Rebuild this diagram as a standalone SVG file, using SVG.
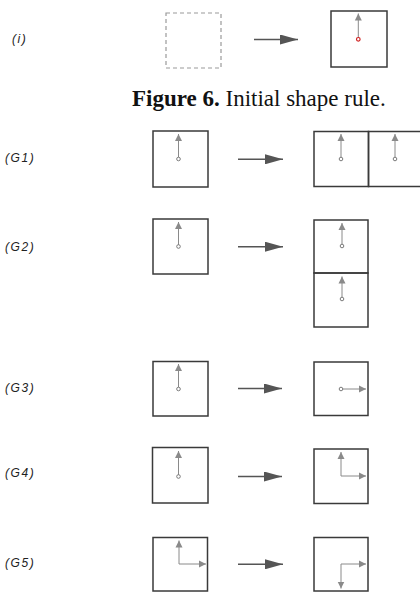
<svg xmlns="http://www.w3.org/2000/svg" width="420" height="592" viewBox="0 0 420 592">
<style>
.bg{fill:#fff}
.sq{fill:none;stroke:#3a3a3a;stroke-width:1.5}
.dash{fill:none;stroke:#9a9a9a;stroke-width:1.2;stroke-dasharray:4 3}
.rule{stroke:#555;stroke-width:1.4;fill:none}
.in{stroke:#8a8a8a;stroke-width:1;fill:none}
.dot{fill:#fff;stroke:#7a7a7a;stroke-width:1}
.red{fill:#fff;stroke:#d02020;stroke-width:1.2}
.lbl{font-family:"Liberation Sans",Arial,sans-serif;font-style:italic;font-size:12px;fill:#222;letter-spacing:1.6px}
.cap{font-family:"Liberation Serif","Times New Roman",serif;font-size:23px;fill:#111}
</style>
<defs>
<marker id="big" markerUnits="userSpaceOnUse" markerWidth="18" markerHeight="10" refX="18" refY="5" orient="auto">
<path d="M0,0 L18,5 L0,10 Z" fill="#555"/>
</marker>
<marker id="sm" markerUnits="userSpaceOnUse" markerWidth="8" markerHeight="8" refX="7" refY="4" orient="auto">
<path d="M0,0.5 L7,4 L0,7.5 Z" fill="#8a8a8a"/>
</marker>
</defs>
<rect class="bg" x="0" y="0" width="420" height="592"/>

<g id="rule-i">
<text class="lbl" x="12" y="43">(i)</text>
<rect class="dash" x="166" y="13" width="55" height="55"/>
<rect class="sq" x="331" y="11" width="56" height="56"/>
<line class="in" x1="358.3" y1="38" x2="358.3" y2="13.5" marker-end="url(#sm)"/>
<circle class="red" cx="358.3" cy="39.3" r="1.8"/>
</g>

<g id="caption">
<text class="cap" x="132" y="106"><tspan font-weight="bold">Figure 6.</tspan> Initial shape rule.</text>
</g>

<g id="G1">
<text class="lbl" x="5" y="162">(G1)</text>
<rect class="sq" x="153" y="131" width="55" height="56"/>
<line class="in" x1="178.5" y1="157.5" x2="178.5" y2="134" marker-end="url(#sm)"/>
<circle class="dot" cx="178.5" cy="159" r="1.8"/>
<rect class="sq" x="314" y="131.5" width="54.5" height="55"/>
<rect class="sq" x="368.5" y="131.5" width="54.5" height="55"/>
<line class="in" x1="341" y1="157.5" x2="341" y2="134" marker-end="url(#sm)"/>
<circle class="dot" cx="341" cy="159" r="1.8"/>
<line class="in" x1="395" y1="157.5" x2="395" y2="134" marker-end="url(#sm)"/>
<circle class="dot" cx="395" cy="159" r="1.8"/>
</g>

<g id="G2">
<text class="lbl" x="5" y="251">(G2)</text>
<rect class="sq" x="153" y="219" width="55" height="55"/>
<line class="in" x1="178.5" y1="245" x2="178.5" y2="222" marker-end="url(#sm)"/>
<circle class="dot" cx="178.5" cy="246.5" r="1.8"/>
<rect class="sq" x="314" y="220" width="54" height="53"/>
<rect class="sq" x="314" y="273" width="54" height="54"/>
<line class="in" x1="342" y1="244.5" x2="342" y2="223" marker-end="url(#sm)"/>
<circle class="dot" cx="342" cy="246" r="1.8"/>
<line class="in" x1="342" y1="297.5" x2="342" y2="276.5" marker-end="url(#sm)"/>
<circle class="dot" cx="342" cy="299" r="1.8"/>
</g>

<g id="G3">
<text class="lbl" x="5" y="392">(G3)</text>
<rect class="sq" x="153" y="361.5" width="55" height="54.5"/>
<line class="in" x1="178.5" y1="387.5" x2="178.5" y2="364" marker-end="url(#sm)"/>
<circle class="dot" cx="178.5" cy="389" r="1.8"/>
<rect class="sq" x="314" y="362" width="54" height="53.5"/>
<line class="in" x1="342.8" y1="389" x2="366" y2="389" marker-end="url(#sm)"/>
<circle class="dot" cx="341" cy="389" r="1.8"/>
</g>

<g id="G4">
<text class="lbl" x="5" y="477">(G4)</text>
<rect class="sq" x="152.5" y="447.5" width="55.5" height="55.5"/>
<line class="in" x1="178.5" y1="475" x2="178.5" y2="451" marker-end="url(#sm)"/>
<circle class="dot" cx="178.5" cy="476.5" r="1.8"/>
<rect class="sq" x="314" y="449" width="54" height="54.5"/>
<polyline class="in" points="341,476 341,452" marker-end="url(#sm)"/>
<polyline class="in" points="341,476 366,476" marker-end="url(#sm)"/>
</g>

<g id="G5">
<text class="lbl" x="5" y="567">(G5)</text>
<rect class="sq" x="153" y="537.5" width="54.5" height="53.5"/>
<polyline class="in" points="179,564 179,540.5" marker-end="url(#sm)"/>
<polyline class="in" points="179,564 206,564" marker-end="url(#sm)"/>
<rect class="sq" x="314" y="537.5" width="54" height="53.5"/>
<polyline class="in" points="341,564 366,564" marker-end="url(#sm)"/>
<polyline class="in" points="341,564 341,588.5" marker-end="url(#sm)"/>
</g>

<g id="connectors">
<line class="rule" x1="254" y1="39.5" x2="298" y2="39.5" marker-end="url(#big)"/>
<line class="rule" x1="238" y1="159.3" x2="283" y2="159.3" marker-end="url(#big)"/>
<line class="rule" x1="238" y1="246.7" x2="283" y2="246.7" marker-end="url(#big)"/>
<line class="rule" x1="238" y1="388.5" x2="282" y2="388.5" marker-end="url(#big)"/>
<line class="rule" x1="238" y1="476.5" x2="282" y2="476.5" marker-end="url(#big)"/>
<line class="rule" x1="238" y1="564.3" x2="283" y2="564.3" marker-end="url(#big)"/>
</g>
</svg>
